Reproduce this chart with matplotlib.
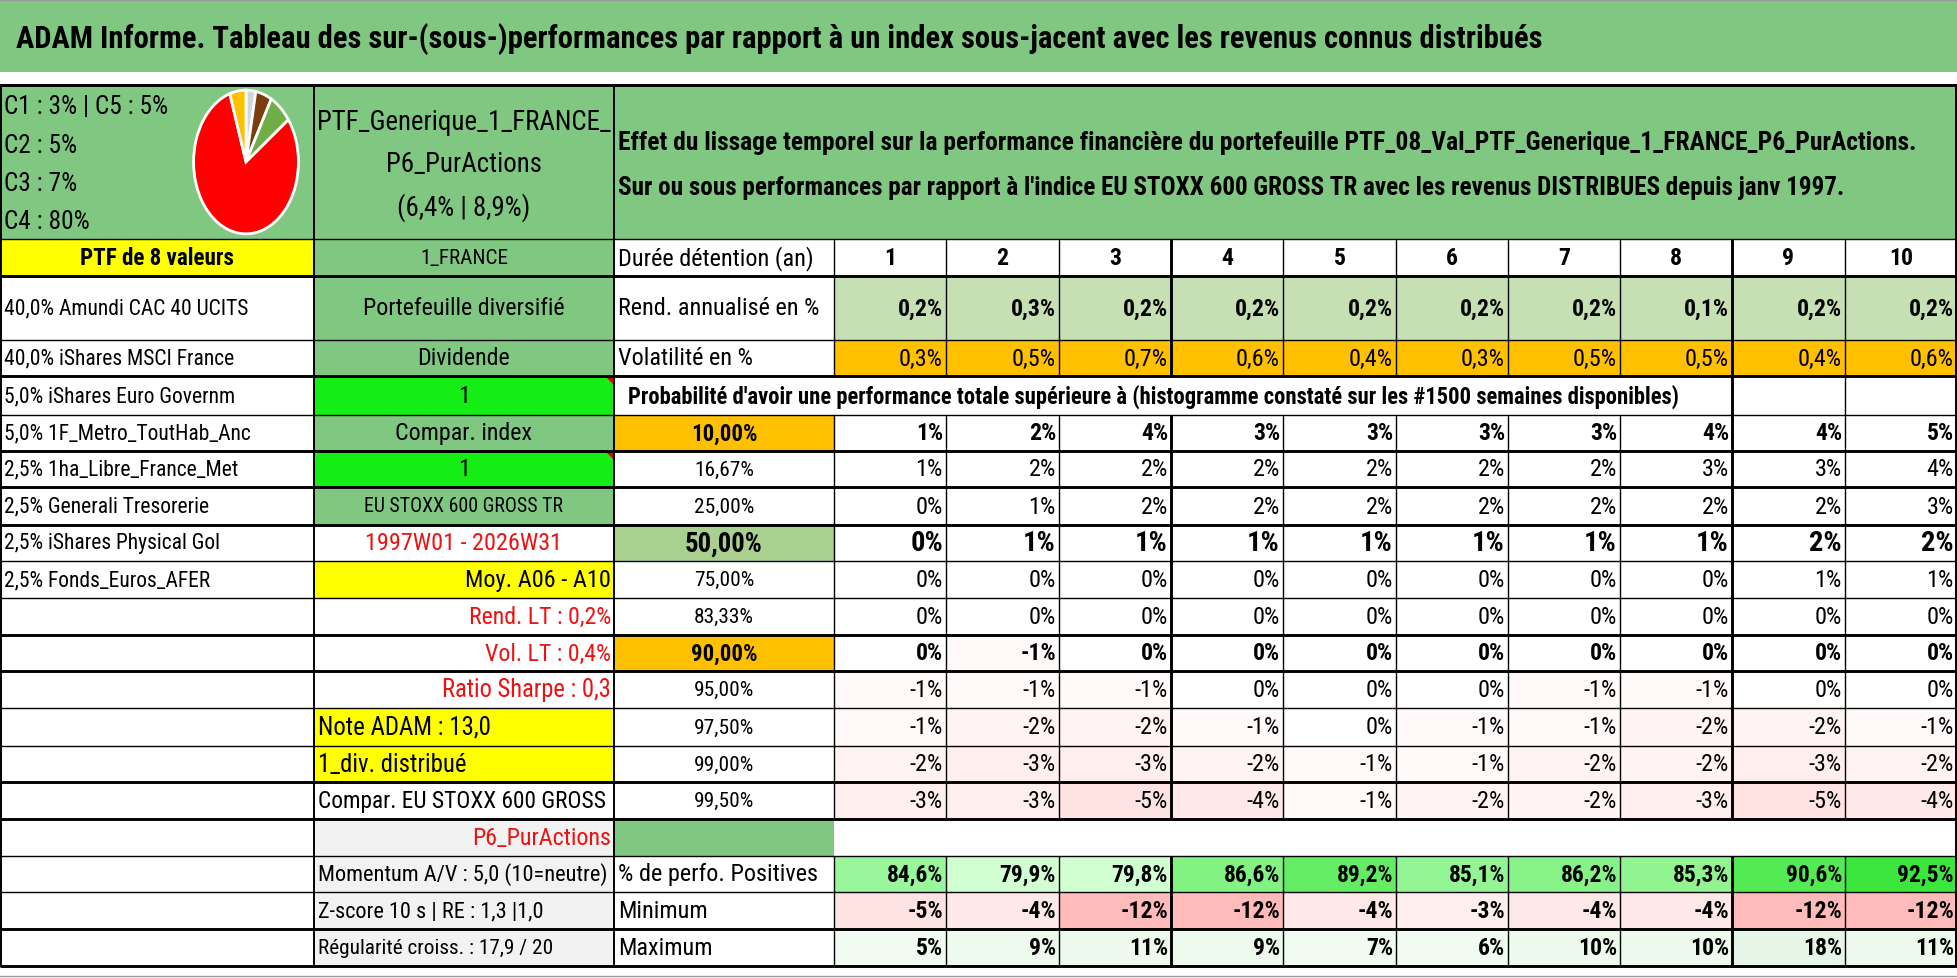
import matplotlib
matplotlib.use('Agg')
import matplotlib.pyplot as plt
import matplotlib.colors as mcolors
from matplotlib import font_manager
from matplotlib.patches import Rectangle, Polygon
import numpy as np

# ---------------- data ----------------
title = ("ADAM Informe. Tableau des sur-(sous-)performances par rapport à un index "
         "sous-jacent avec les revenus connus distribués")
header_line1 = ("Effet du lissage temporel sur la performance financière du portefeuille "
                "PTF_08_Val_PTF_Generique_1_FRANCE_P6_PurActions.")
header_line2 = ("Sur ou sous performances par rapport à l'indice EU STOXX 600 GROSS TR "
                "avec les revenus DISTRIBUES depuis janv 1997.")
prob_title = ("Probabilité d'avoir une performance totale supérieure à "
              "(histogramme constaté sur les #1500 semaines disponibles)")

pie_labels = ['C1', 'C2', 'C3', 'C4', 'C5']
pie_values = [3, 5, 7, 80, 5]
pie_colors = ['#D3D6DD', '#7B3C0E', '#70AD47', '#FF0000', '#FFC000']
legend_lines = ['C1 : 3% | C5 : 5%', 'C2 : 5%', 'C3 : 7%', 'C4 : 80%']

ptf_name = ['PTF_Generique_1_FRANCE_', 'P6_PurActions', '(6,4% | 8,9%)']
ptf_count = 'PTF de 8 valeurs'
holdings = ['40,0% Amundi CAC 40 UCITS', '40,0% iShares MSCI France',
            '5,0% iShares Euro Governm', '5,0% 1F_Metro_ToutHab_Anc',
            '2,5% 1ha_Libre_France_Met', '2,5% Generali Tresorerie',
            '2,5% iShares Physical Gol', '2,5% Fonds_Euros_AFER']

side_labels = ['1_FRANCE', 'Portefeuille diversifié', 'Dividende', '1', 'Compar. index', '1',
               'EU STOXX 600 GROSS TR', '1997W01 - 2026W31', 'Moy. A06 - A10',
               'Rend. LT : 0,2%', 'Vol. LT : 0,4%', 'Ratio Sharpe : 0,3',
               'Note ADAM : 13,0', '1_div. distribué', 'Compar. EU STOXX 600 GROSS TR',
               'P6_PurActions', 'Momentum A/V : 5,0 (10=neutre)',
               'Z-score 10 s | RE : 1,3 |1,0', 'Régularité croiss. : 17,9 / 20']

durations = [1, 2, 3, 4, 5, 6, 7, 8, 9, 10]
rend = [0.2, 0.3, 0.2, 0.2, 0.2, 0.2, 0.2, 0.1, 0.2, 0.2]
vol = [0.3, 0.5, 0.7, 0.6, 0.4, 0.3, 0.5, 0.5, 0.4, 0.6]

thresholds = [10.00, 16.67, 25.00, 50.00, 75.00, 83.33, 90.00, 95.00, 97.50, 99.00, 99.50]
prob = [
    [1, 2, 4, 3, 3, 3, 3, 4, 4, 5],
    [1, 2, 2, 2, 2, 2, 2, 3, 3, 4],
    [0, 1, 2, 2, 2, 2, 2, 2, 2, 3],
    [0, 1, 1, 1, 1, 1, 1, 1, 2, 2],
    [0, 0, 0, 0, 0, 0, 0, 0, 1, 1],
    [0, 0, 0, 0, 0, 0, 0, 0, 0, 0],
    [0, -1, 0, 0, 0, 0, 0, 0, 0, 0],
    [-1, -1, -1, 0, 0, 0, -1, -1, 0, 0],
    [-1, -2, -2, -1, 0, -1, -1, -2, -2, -1],
    [-2, -3, -3, -2, -1, -1, -2, -2, -3, -2],
    [-3, -3, -5, -4, -1, -2, -2, -3, -5, -4],
]
pos_pct = [84.6, 79.9, 79.8, 86.6, 89.2, 85.1, 86.2, 85.3, 90.6, 92.5]
minimum = [-5, -4, -12, -12, -4, -3, -4, -4, -12, -12]
maximum = [5, 9, 11, 9, 7, 6, 10, 10, 18, 11]

# ---------------- fonts ----------------
avail = {f.name for f in font_manager.fontManager.ttflist}
FONT = next((f for f in ['Liberation Sans Narrow', 'Arial Narrow', 'Roboto Condensed',
                         'Open Sans Condensed', 'Liberation Sans', 'DejaVu Sans'] if f in avail),
            'DejaVu Sans')
plt.rcParams['font.family'] = [FONT, 'DejaVu Sans']

# ---------------- colours ----------------
GREEN = '#80C882'
BRIGHT = '#14EE14'
YELLOW = '#FFFF00'
ORANGE = '#FFC000'
LGREEN = '#C6E0B4'
MGREEN = '#A9D08E'
GREY = '#F2F2F2'
RED = '#EE1111'

W, H = 1958, 979
fig = plt.figure(figsize=(W / 100, H / 100), dpi=100)
ax = fig.add_axes([0, 0, 1, 1])
ax.set_xlim(0, W)
ax.set_ylim(H, 0)
ax.axis('off')
renderer = fig.canvas.get_renderer()

XC = [0, 314, 614, 834, 946, 1059, 1171, 1283, 1396, 1508, 1620, 1732, 1845, 1957]
ROW = [86, 240, 277, 341, 377, 416, 452, 488, 526, 562, 599, 636, 672, 709, 747, 783,
       820, 857, 893, 930, 967]
BOOST = 1.06   # the reference glyphs are taller for a given width
NBOOST = 1.05


def width_of(s, size, weight='normal'):
    t = ax.text(0, 0, s, fontsize=size, fontweight=weight)
    w = t.get_window_extent(renderer=renderer).width
    t.remove()
    return w


def fit(s, target, weight='normal', boost=BOOST):
    return boost * 20 * target / width_of(s, 20, weight)


def put(x, y, s, size, ha='left', weight='normal', color='black', maxw=None, clip=None):
    t = ax.text(x, y, s, fontsize=size, ha=ha, va='center', fontweight=weight,
                color=color, zorder=5)
    if maxw is not None:
        w = t.get_window_extent(renderer=renderer).width
        if w > maxw:
            t.set_fontsize(size * maxw / w)
    if clip is not None:
        t.set_clip_on(True)
        t.set_clip_box(clip)
    return t


def cell(x0, y0, x1, y1, color):
    ax.add_patch(Rectangle((x0, y0), x1 - x0, y1 - y0, facecolor=color,
                           edgecolor='none', zorder=1))


def blend(c0, c1, t):
    t = max(0.0, min(1.0, t))
    a = np.array(mcolors.to_rgb(c0))
    b = np.array(mcolors.to_rgb(c1))
    return tuple(a + (b - a) * t)


def neg_color(v):
    return blend('#FFFFFF', '#FFBABA', -v / 12) if v < 0 else '#FFFFFF'


def pct(v, nd=0):
    return f"{v:.{nd}f}".replace('.', ',') + '%'


def mid(i):
    return (ROW[i] + ROW[i + 1]) / 2


# ---------------- title band ----------------
cell(0, 1, W, 73, GREEN)
put(16, 39, title, fit(title, 1482, 'bold', 1.03), weight='bold')

# ---------------- header row ----------------
cell(0, ROW[0], XC[1], ROW[1], GREEN)
cell(XC[1], ROW[0], XC[2], ROW[1], GREEN)
cell(XC[2], ROW[0], XC[-1], ROW[1], GREEN)

s_leg = fit(legend_lines[0], 155)
for y, s in zip([107, 146, 184, 222], legend_lines):
    put(4, y, s, s_leg)

pax = fig.add_axes([192 / W, 1 - 237 / H, 108 / W, 148 / H])
pax.pie(pie_values, colors=pie_colors, startangle=90, counterclock=False,
        wedgeprops=dict(edgecolor='white', linewidth=2.0))
pax.set_aspect('auto')
pax.set_xlim(-1.03, 1.03)
pax.set_ylim(-1.03, 1.03)
pax.axis('off')

s_name = fit(ptf_name[0], 289, boost=1.02)
for y, s in zip([122, 165, 208], ptf_name):
    put((XC[1] + XC[2]) / 2, y, s, s_name, ha='center')

put(618, 143, header_line1, fit(header_line1, 1292, 'bold', 1.0), weight='bold')
put(618, 188, header_line2, fit(header_line2, 1222, 'bold', 1.0), weight='bold')

# ---------------- column A ----------------
cell(0, ROW[1], XC[1], ROW[2], YELLOW)
put(XC[1] / 2, mid(1), ptf_count, fit(ptf_count, 145, 'bold'), ha='center', weight='bold')
s_hold = fit(holdings[0], 231)
for k, s in enumerate(holdings):
    put(4, mid(2 + k), s, s_hold, maxw=300)

# ---------------- column B ----------------
s_lab = fit('Portefeuille diversifié', 190)
side_style = [
    # (background, text colour, align, weight, target width or None)
    (GREEN, 'black', 'center', 'normal', 83),
    (GREEN, 'black', 'center', 'normal', None),
    (GREEN, 'black', 'center', 'normal', None),
    (BRIGHT, 'black', 'center', 'normal', None),
    (GREEN, 'black', 'center', 'normal', None),
    (BRIGHT, 'black', 'center', 'normal', None),
    (GREEN, 'black', 'center', 'normal', 188),
    ('white', RED, 'center', 'normal', 185),
    (YELLOW, 'black', 'right', 'normal', 137),
    ('white', RED, 'right', 'normal', 135),
    ('white', RED, 'right', 'normal', 119),
    ('white', RED, 'right', 'normal', 159),
    (YELLOW, 'black', 'left', 'normal', 163),
    (YELLOW, 'black', 'left', 'normal', 140),
    ('white', 'black', 'left', 'normal', 318),
    (GREY, RED, 'right', 'normal', 131),
    (GREY, 'black', 'left', 'normal', 273),
    (GREY, 'black', 'left', 'normal', 212),
    (GREY, 'black', 'left', 'normal', 222),
]
for k, (s, (bg, col, ha, wt, tw)) in enumerate(zip(side_labels, side_style)):
    i = k + 1
    cell(XC[1], ROW[i], XC[2], ROW[i + 1], bg)
    size = fit(s, tw, wt) if tw else s_lab
    if ha == 'center':
        x = (XC[1] + XC[2]) / 2
    elif ha == 'right':
        x = XC[2] - 3
    else:
        x = XC[1] + 4
    clip = None
    maxw = XC[2] - XC[1] - 8
    if s.startswith('Compar. EU'):
        size = fit(s, tw, wt, 1.0)
        clip = Rectangle((XC[1], ROW[i]), XC[2] - XC[1] - 2, ROW[i + 1] - ROW[i],
                         transform=ax.transData).get_window_extent(renderer)
        maxw = None
    put(x, mid(i), s, size, ha=ha, weight=wt, color=col, clip=clip, maxw=maxw)
    if s == '1':
        ax.add_patch(Polygon([(XC[2] - 8, ROW[i] + 1), (XC[2] - 1, ROW[i] + 1),
                              (XC[2] - 1, ROW[i] + 8)], closed=True,
                             facecolor='#E00000', edgecolor='none', zorder=3))

# ---------------- column C and value grid ----------------
s_c = fit('Durée détention (an)', 192, boost=1.02)
put(618, mid(1), 'Durée détention (an)', s_c)
put(618, mid(2), 'Rend. annualisé en %', s_c)
put(618, mid(3), 'Volatilité en %', s_c)
put(628, mid(4), prob_title, fit(prob_title, 1050, 'bold', 1.0), weight='bold')

s_vb = fit('0,2%', 43, 'bold', NBOOST)
s_v = fit('0,3%', 42, boost=NBOOST)
s_hd = s_vb

for j, d in enumerate(durations):
    x0, x1 = XC[3 + j], XC[4 + j]
    put((x0 + x1) / 2, mid(1), str(d), s_hd, ha='center', weight='bold')
    cell(x0, ROW[2], x1, ROW[3], LGREEN)
    put(x1 - 3, mid(2), pct(rend[j], 1), s_vb, ha='right', weight='bold')
    cell(x0, ROW[3], x1, ROW[4], ORANGE)
    put(x1 - 3, mid(3), pct(vol[j], 1), s_v, ha='right')

# probability rows
s_thr = fit('16,67%', 57, boost=NBOOST)
s_thr_b = fit('10,00%', 63, 'bold', NBOOST)
s_50 = fit('50,00%', 74, 'bold', NBOOST)
s_50v = fit('0%', 31, 'bold', NBOOST)
for r, th in enumerate(thresholds):
    i = 5 + r
    cx = (XC[2] + XC[3]) / 2
    if th == 10.0 or th == 90.0:
        cell(XC[2], ROW[i], XC[3], ROW[i + 1], ORANGE)
        put(cx, mid(i), pct(th, 2), s_thr_b, ha='center', weight='bold')
        vsize, vw = s_vb, 'bold'
    elif th == 50.0:
        cell(XC[2], ROW[i], XC[3], ROW[i + 1], MGREEN)
        put(cx, mid(i), pct(th, 2), s_50, ha='center', weight='bold')
        vsize, vw = s_50v, 'bold'
    else:
        put(cx, mid(i), pct(th, 2), s_thr, ha='center')
        vsize, vw = s_v, 'normal'
    for j, v in enumerate(prob[r]):
        x0, x1 = XC[3 + j], XC[4 + j]
        cell(x0, ROW[i], x1, ROW[i + 1], neg_color(v))
        put(x1 - 3, mid(i), pct(v), vsize, ha='right', weight=vw)

# P6 row: green cell in column C
cell(XC[2], ROW[16], XC[3], ROW[17], GREEN)

# summary rows
put(618, mid(17), '% de perfo. Positives', s_c)
put(618, mid(18), 'Minimum', s_c)
put(618, mid(19), 'Maximum', s_c)
s_pos = fit('84,6%', 54, 'bold', NBOOST)
lo, hi = min(pos_pct), max(pos_pct)
for j in range(len(durations)):
    x0, x1 = XC[3 + j], XC[4 + j]
    cell(x0, ROW[17], x1, ROW[18], blend('#D2FFD2', '#3DE63D', (pos_pct[j] - lo) / (hi - lo)))
    put(x1 - 3, mid(17), pct(pos_pct[j], 1), s_pos, ha='right', weight='bold')
    cell(x0, ROW[18], x1, ROW[19], neg_color(minimum[j]))
    put(x1 - 3, mid(18), pct(minimum[j]), s_vb, ha='right', weight='bold')
    cell(x0, ROW[19], x1, ROW[20], blend('#F7FDF7', '#E6F6E6', maximum[j] / 18))
    put(x1 - 3, mid(19), pct(maximum[j]), s_vb, ha='right', weight='bold')

# ---------------- grid lines ----------------
THICK = {86, 277, 377, 452, 488, 526, 636, 672, 783, 820, 930, 967}
for y in ROW:
    lw = 2.1 if y in THICK else 1.0
    ax.plot([0, 1957], [y, y], color='black', lw=lw, solid_capstyle='butt', zorder=4)

for x in [1, XC[1], XC[2], 1956]:
    ax.plot([x, x], [ROW[0], ROW[-1]], color='black', lw=1.4, zorder=4)
for x in XC[3:13]:
    lw = 2.1 if x in (1171, 1732) else 1.0
    for (a, b) in [(ROW[1], ROW[4]), (ROW[5], ROW[16]), (ROW[17], ROW[20])]:
        ax.plot([x, x], [a, b], color='black', lw=lw, solid_capstyle='butt', zorder=4)
for x in (1732, 1845):
    lw = 2.1 if x == 1732 else 1.0
    ax.plot([x, x], [ROW[4], ROW[5]], color='black', lw=lw, solid_capstyle='butt', zorder=4)

# outer thin grey frame of the picture
ax.plot([0, W], [0.5, 0.5], color='#9A9A9A', lw=1.0, zorder=6)
ax.plot([0, W], [977, 977], color='#9A9A9A', lw=1.0, zorder=6)

fig.savefig('out.png', dpi=100, facecolor='white')
